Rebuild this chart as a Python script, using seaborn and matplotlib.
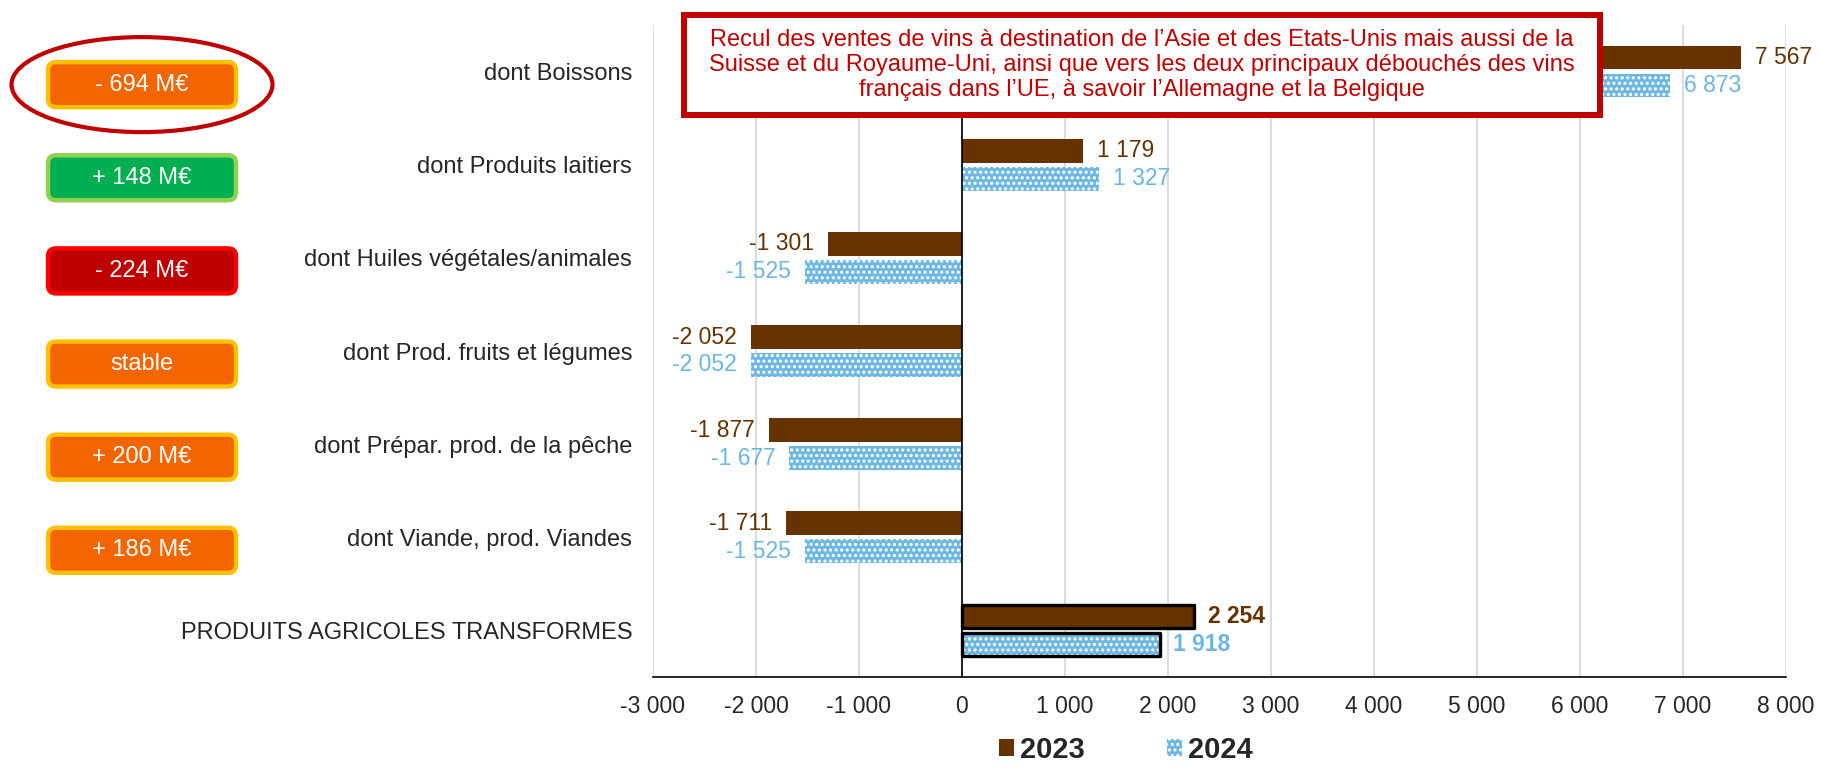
import numpy as np
import pandas as pd
import matplotlib
matplotlib.use("Agg")
import matplotlib.pyplot as plt
import seaborn as sns
from matplotlib.patches import Rectangle, FancyBboxPatch, Ellipse, Patch
from matplotlib.transforms import IdentityTransform

categories = ["dont Boissons", "dont Produits laitiers", "dont Huiles végétales/animales",
              "dont Prod. fruits et légumes", "dont Prépar. prod. de la pêche",
              "dont Viande, prod. Viandes", "PRODUITS AGRICOLES TRANSFORMES"]
years = ["2023", "2024"]
v2023 = [7567, 1179, -1301, -2052, -1877, -1711, 2254]
v2024 = [6873, 1327, -1525, -2052, -1677, -1525, 1918]
x_ticks = [-3000, -2000, -1000, 0, 1000, 2000, 3000, 4000, 5000, 6000, 7000, 8000]
badge_texts = ["- 694 M€", "+ 148 M€", "- 224 M€", "stable", "+ 200 M€", "+ 186 M€"]
badge_kinds = ["orange", "green", "red", "orange", "orange", "orange"]
note_text = ("Recul des ventes de vins à destination de l’Asie et des Etats-Unis mais aussi de la\n"
             "Suisse et du Royaume-Uni, ainsi que vers les deux principaux débouchés des vins\n"
             "français dans l’UE, à savoir l’Allemagne et la Belgique")

BROWN = "#663300"
BLUE = "#6DB8E3"
BLUE_TXT = "#6CB6E2"
RED = "#C00000"
badge_styles = {"orange": ("#F26500", "#FFC000"),
                "green": ("#00B050", "#92D050"),
                "red": ("#C00000", "#FF0000")}

def fmt(v):
    return f"{v:,}".replace(",", " ")

sns.set_style("white")
plt.rcParams["font.family"] = ["Liberation Sans", "DejaVu Sans"]
plt.rcParams["hatch.linewidth"] = 1.5

df = pd.DataFrame({
    "cat": categories * 2,
    "val": v2023 + v2024,
    "year": [years[0]] * len(categories) + [years[1]] * len(categories),
})

W, H = 1822, 768
fig = plt.figure(figsize=(W / 100, H / 100), dpi=100)
ax = fig.add_axes([653 / W, 1 - 677 / H, (1786 - 653) / W, (677 - 25) / H])

sns.barplot(data=df, y="cat", x="val", hue="year", orient="h",
            palette={years[0]: BROWN, years[1]: BLUE}, width=0.6, gap=0.15,
            ax=ax, legend=False, errorbar=None, saturation=1, zorder=3)

ax.set_xlim(-3000, 8000)
ax.set_ylim(len(categories) - 0.5, -0.5)

# hatch 2024 bars with white dots
c23, c24 = ax.containers[0], ax.containers[1]
for p in c24.patches:
    p.set_hatch("...")
    p.set_edgecolor("white")
    p.set_linewidth(0)
for p in c23.patches:
    p.set_linewidth(0)

# black outline on total bars
for cont in (c23, c24):
    p = cont.patches[-1]
    ax.add_patch(Rectangle((p.get_x(), p.get_y()), p.get_width(), p.get_height(),
                           fill=False, ec="black", lw=2.4, zorder=4, joinstyle="round"))

# value labels
for cont, vals, col in ((c23, v2023, BROWN), (c24, v2024, BLUE_TXT)):
    texts = ax.bar_label(cont, labels=[fmt(v) for v in vals], padding=10,
                         fontsize=16.5, color=col, zorder=5)
    texts[-1].set_fontweight("bold")

ax.set_xticks(x_ticks)
ax.set_xticklabels([fmt(t) for t in x_ticks], fontsize=16.5)
ax.tick_params(axis="x", length=0, pad=13)
ax.tick_params(axis="y", length=0, pad=15, labelsize=17)
ax.set_xlabel("")
ax.set_ylabel("")
ax.grid(axis="x", color="#D9D9D9", lw=1.3, zorder=0)
ax.grid(axis="y", visible=False)
for s in ("top", "right", "left"):
    ax.spines[s].set_visible(False)
ax.spines["bottom"].set_color("black")
ax.spines["bottom"].set_linewidth(1.2)
ax.axvline(0, color="black", lw=1.2, zorder=4)

# legend
handles = [Patch(fc=BROWN, ec="none"), Patch(fc=BLUE, ec="white", hatch="...", lw=0)]
fig.legend(handles, years, loc="center", bbox_to_anchor=(0.618, 0.024), ncol=2,
           frameon=False, prop={"size": 21, "weight": "bold"}, handlelength=0.52,
           handleheight=0.52, handletextpad=0.22, columnspacing=2.8, borderpad=0)

# badges (pixel coordinates)
ident = IdentityTransform()
bx, bw, bh = 142, 188, 45
for i, (txt, kind) in enumerate(zip(badge_texts, badge_kinds)):
    yc = ax.transData.transform((0, i + 0.14))[1]
    fc, ec = badge_styles[kind]
    fig.add_artist(FancyBboxPatch((bx - bw / 2, yc - bh / 2), bw, bh,
                                  boxstyle="round,pad=0,rounding_size=8",
                                  fc=fc, ec=ec, lw=3.2, transform=ident))
    fig.text(bx / W, yc / H, txt, color="white", fontsize=17, ha="center", va="center")
    if i == 0:
        fig.add_artist(Ellipse((bx, yc), 261, 95, fill=False, ec=RED, lw=3.0,
                               transform=ident))

# note box
bx0, bx1, by0, by1 = 684, 1600, H - 115, H - 15
fig.add_artist(Rectangle((bx0, by0), bx1 - bx0, by1 - by0, fc="white", ec=RED,
                         lw=4.3, transform=ident, zorder=10))
fig.text((bx0 + bx1) / 2 / W, (by0 + by1) / 2 / H, note_text, color=RED, fontsize=17,
         ha="center", va="center", linespacing=1.2, zorder=11)

fig.savefig("out.png", dpi=100)
